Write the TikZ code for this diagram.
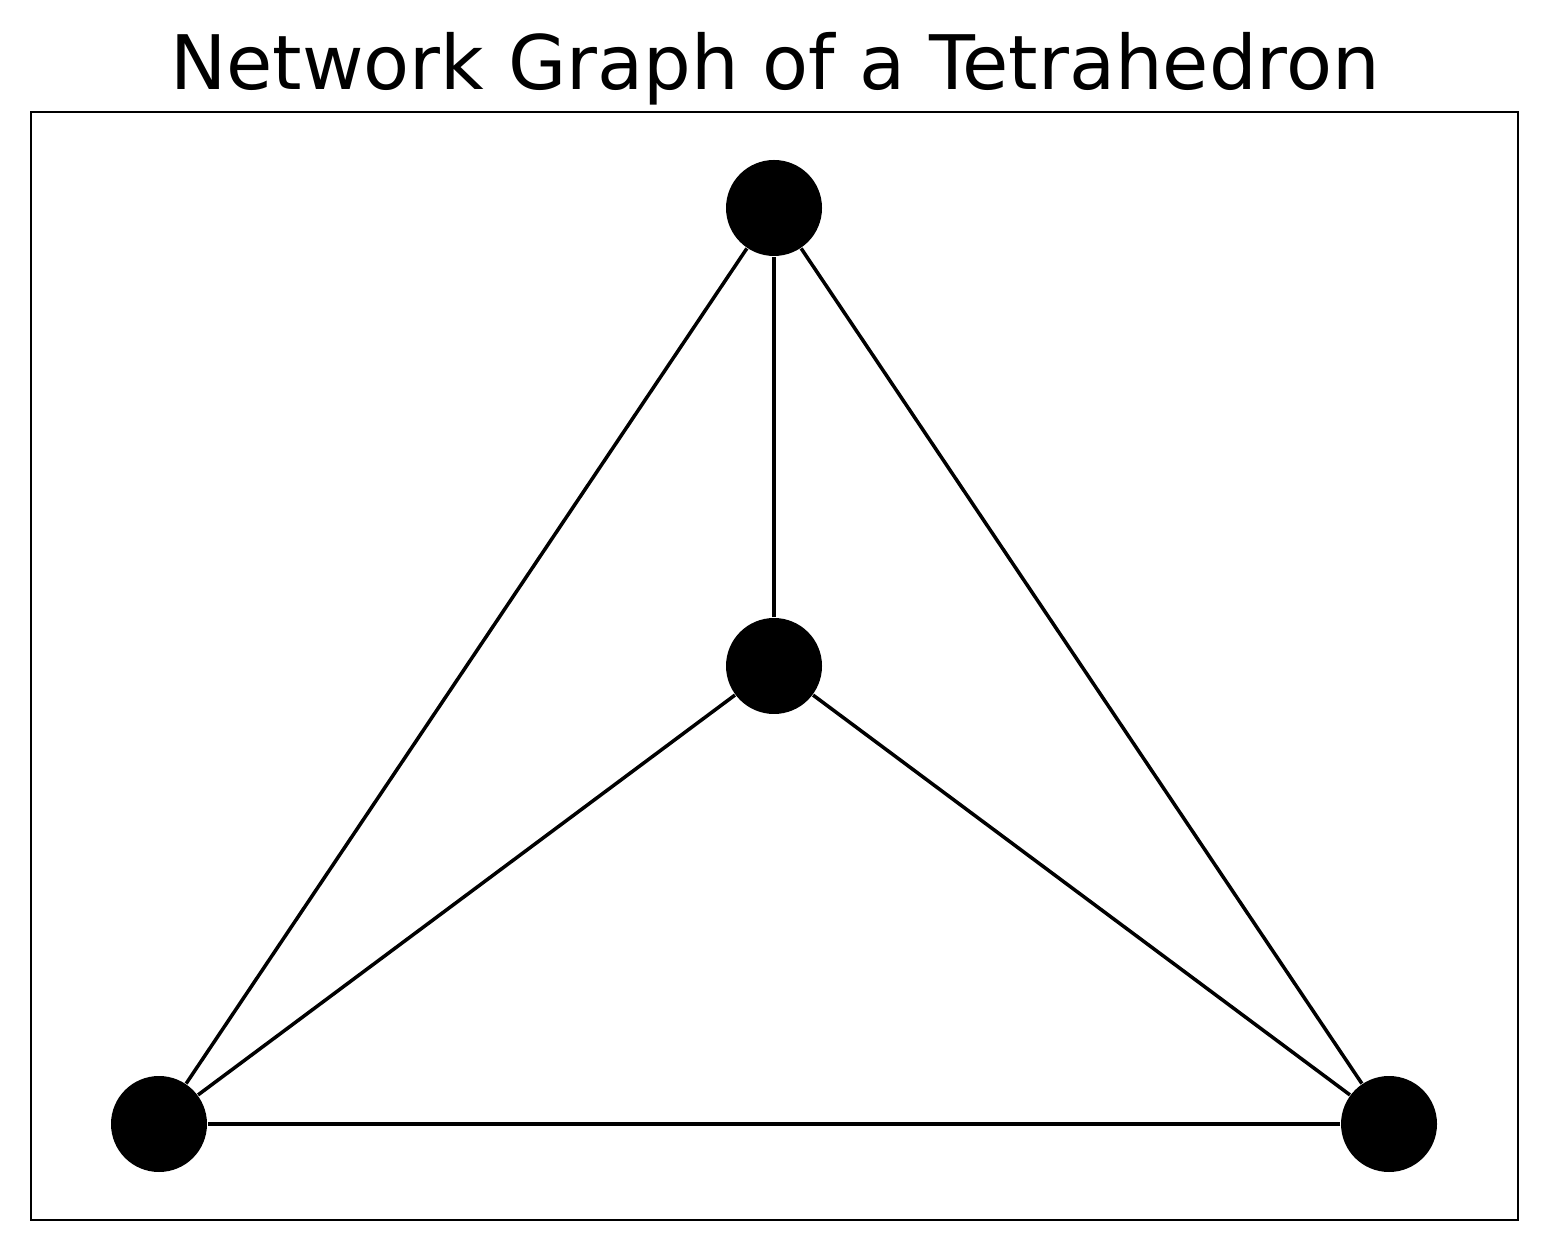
\documentclass[tikz,border=0pt]{standalone}
\usepackage{fontspec}
\setmainfont{DejaVu Sans}
\usepackage{tikz}
\usetikzlibrary{backgrounds,fit}

\begin{document}
\begin{tikzpicture}
		[v/.style= {circle,minimum size=9.6mm,inner sep=0pt,fill=black},
		e/.style= {-,line width=1pt,draw=black}]

		\useasboundingbox (0,0) rectangle (15.48,12.5);
		\draw[line width=0.8pt] (0.31,0.30) rectangle (15.18,11.38);

		\node[font=\fontsize{21.4}{26}\selectfont,anchor=base] (title) at (7.75,11.60) {Network Graph of a Tetrahedron};

		\node[v] (v0) at ( 7.74,10.42) {};

		\node[v] (v1) at ( 7.74,5.84) {}
			edge [e]	(v0)
		;

		\node[v] (v2) at ( 1.59,1.26) {}
			edge [e]	(v0)
			edge [e]	(v1)
		;

		\node[v] (v3) at ( 13.89,1.26) {}
			edge [e]	(v0)
			edge [e]	(v1)
			edge [e]	(v2)
		;

	\end{tikzpicture}
\end{document}
